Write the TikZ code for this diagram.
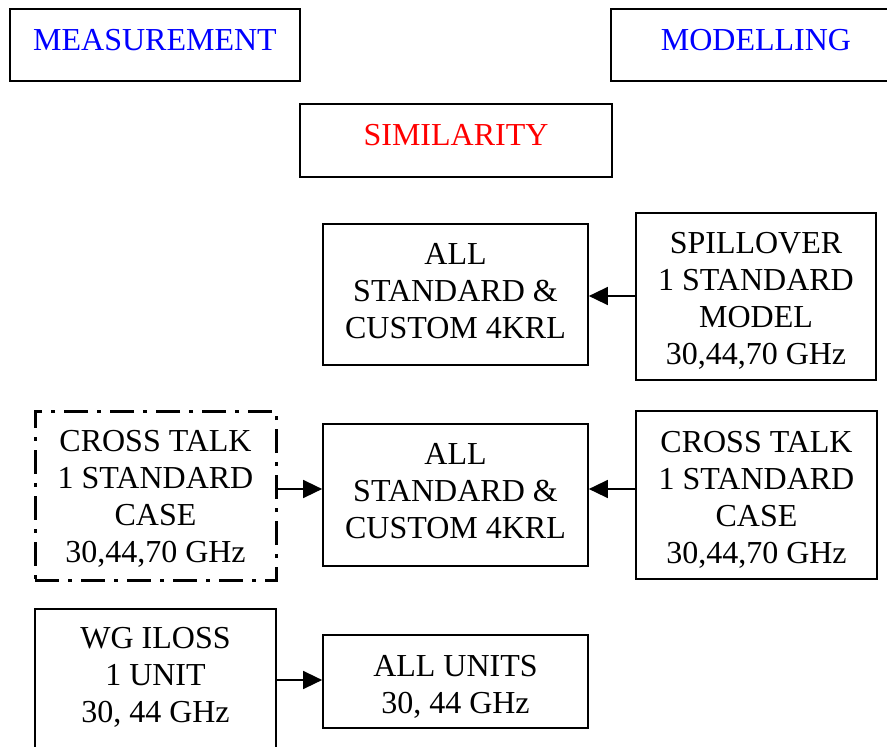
\documentclass[tikz,border=0pt]{standalone}
\usepackage{fontspec}
\setmainfont{Liberation Serif}
\usetikzlibrary{arrows.meta,positioning}
\definecolor{tblue}{RGB}{0,0,255}
\definecolor{tred}{RGB}{255,0,0}
\begin{document}
\begin{tikzpicture}[x=1pt,y=-1pt,
  box/.style={draw=black, line width=1.7pt, inner sep=0pt, fill=none},
  topbox/.style={box, line width=2.4pt},
  dashdotbox/.style={box, line width=3pt, dash pattern=on 24pt off 9pt on 4pt off 9pt},
  txt/.style={inner sep=0pt, align=center, font=\fontsize{32}{37}\selectfont},
  arr/.style={line width=1.5pt, -{Triangle[length=19pt,width=18pt]}}]
\useasboundingbox (0,0) rectangle (887,747);
% top boxes
\node[topbox, minimum width=290pt, minimum height=72pt] (meas) at (155,45) {};
\node[txt, text=tblue, below=21pt of meas.north] (meast) {MEASUREMENT};
\node[topbox, minimum width=290pt, minimum height=72pt] (model) at (756,45) {};
\node[txt, text=tblue, below=21pt of model.north] (modelt) {MODELLING};
\node[topbox, minimum width=312pt, minimum height=73pt] (sim) at (456,140.5) {};
\node[txt, text=tred, below=21pt of sim.north] (simt) {SIMILARITY};
% row 1
\node[box, minimum width=265pt, minimum height=141pt] (all1) at (455.5,294.5) {};
\node[txt, below=20pt of all1.north] (all1t) {ALL\\STANDARD \&\\CUSTOM 4KRL};
\node[box, minimum width=240pt, minimum height=167pt] (spill) at (756,296.5) {};
\node[txt, below=20pt of spill.north] (spillt) {SPILLOVER\\1 STANDARD\\MODEL\\30,44,70 GHz};
% row 2
\node[dashdotbox, minimum width=241pt, minimum height=169pt] (ctm) at (155.5,495.5) {};
\node[txt, below=21pt of ctm.north] (ctmt) {CROSS TALK\\1 STANDARD\\CASE\\30,44,70 GHz};
\node[box, minimum width=265pt, minimum height=142pt] (all2) at (455.5,495) {};
\node[txt, below=20pt of all2.north] (all2t) {ALL\\STANDARD \&\\CUSTOM 4KRL};
\node[box, minimum width=241pt, minimum height=168pt] (ct2) at (756.5,495) {};
\node[txt, below=21pt of ct2.north] (ct2t) {CROSS TALK\\1 STANDARD\\CASE\\30,44,70 GHz};
% row 3
\node[box, minimum width=241pt, minimum height=161pt] (wg) at (155.5,689.5) {};
\node[txt, below=19pt of wg.north] (wgt) {WG ILOSS\\1 UNIT\\30, 44 GHz};
\node[box, minimum width=265pt, minimum height=93pt] (units) at (455.5,681.5) {};
\node[txt, below=21pt of units.north] (unitst) {ALL UNITS\\30, 44 GHz};
% connectors
\coordinate (r1) at (0,296);
\coordinate (r2) at (0,489);
\coordinate (r3) at (0,680);
\draw[arr] (spill.west |- r1) -- (all1.east |- r1);
\draw[arr] (ctm.east |- r2) -- (all2.west |- r2);
\draw[arr] (ct2.west |- r2) -- (all2.east |- r2);
\draw[arr] (wg.east |- r3) -- (units.west |- r3);
\end{tikzpicture}
\end{document}
